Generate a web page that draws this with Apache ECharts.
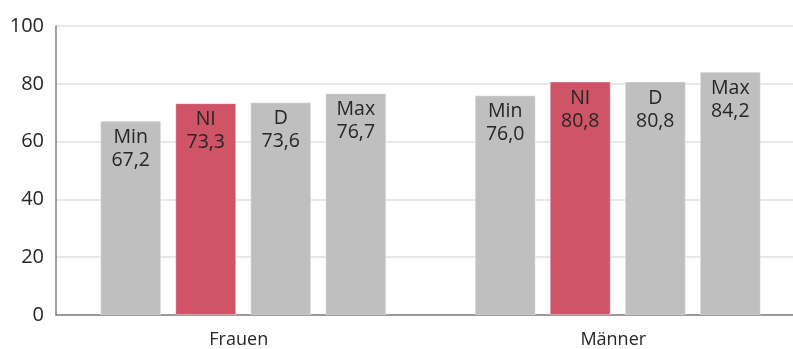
<!DOCTYPE html>
<html>
<head>
<meta charset="utf-8">
<script src="https://cdn.jsdelivr.net/npm/echarts@6/dist/echarts.min.js"></script>
<style>
  html, body { margin: 0; padding: 0; background: #fff; }
  #chart { width: 793px; height: 349px; }
</style>
</head>
<body>
<div id="chart"></div>
<script>
const categories = ['Frauen', 'Männer'];
const seriesNames = ['Min', 'NI', 'D', 'Max'];
const minValues = [67.2, 76.0];
const niValues = [73.3, 80.8];
const dValues = [73.6, 80.8];
const maxValues = [76.7, 84.2];
const yTicks = [0, 20, 40, 60, 80, 100];

const GRAY = '#bfbfbf';
const RED = '#cf5466';
const FONT = '"Open Sans", "DejaVu Sans", sans-serif';

const fmt = (v) => v.toFixed(1).replace('.', ',');

const makeSeries = (name, data, color) => ({
  name,
  type: 'bar',
  data,
  barWidth: 61,
  barGap: '23%',
  itemStyle: { color, borderColor: 'rgba(255,255,255,0.35)', borderWidth: 1 },
  label: {
    show: true,
    position: 'insideTop',
    distance: 5,
    color: '#262626',
    fontFamily: FONT,
    fontSize: 19.5,
    lineHeight: 23,
    formatter: (p) => name + '\n' + fmt(p.value)
  }
});

const chart = echarts.init(document.getElementById('chart'));
chart.setOption({
  animation: false,
  // plot area runs past the right edge of the canvas, as in the source
  grid: { left: 56, width: 749, top: 26, bottom: 34, outerBoundsMode: 'none' },
  xAxis: {
    type: 'category',
    data: categories,
    axisLine: { lineStyle: { color: '#808080', width: 1.5 } },
    axisTick: { show: false },
    axisLabel: { color: '#262626', fontFamily: FONT, fontSize: 18, margin: 16, padding: [0, 9, 0, 0] }
  },
  yAxis: {
    type: 'value',
    min: yTicks[0],
    max: yTicks[yTicks.length - 1],
    interval: 20,
    axisLine: { show: true, lineStyle: { color: '#808080', width: 1.5 } },
    axisTick: { show: false },
    axisLabel: { color: '#262626', fontFamily: FONT, fontSize: 20, margin: 12 },
    splitLine: { lineStyle: { color: '#e0e0e0', width: 1.5 } }
  },
  series: [
    makeSeries(seriesNames[0], minValues, GRAY),
    makeSeries(seriesNames[1], niValues, RED),
    makeSeries(seriesNames[2], dValues, GRAY),
    makeSeries(seriesNames[3], maxValues, GRAY)
  ]
});
</script>
</body>
</html>
